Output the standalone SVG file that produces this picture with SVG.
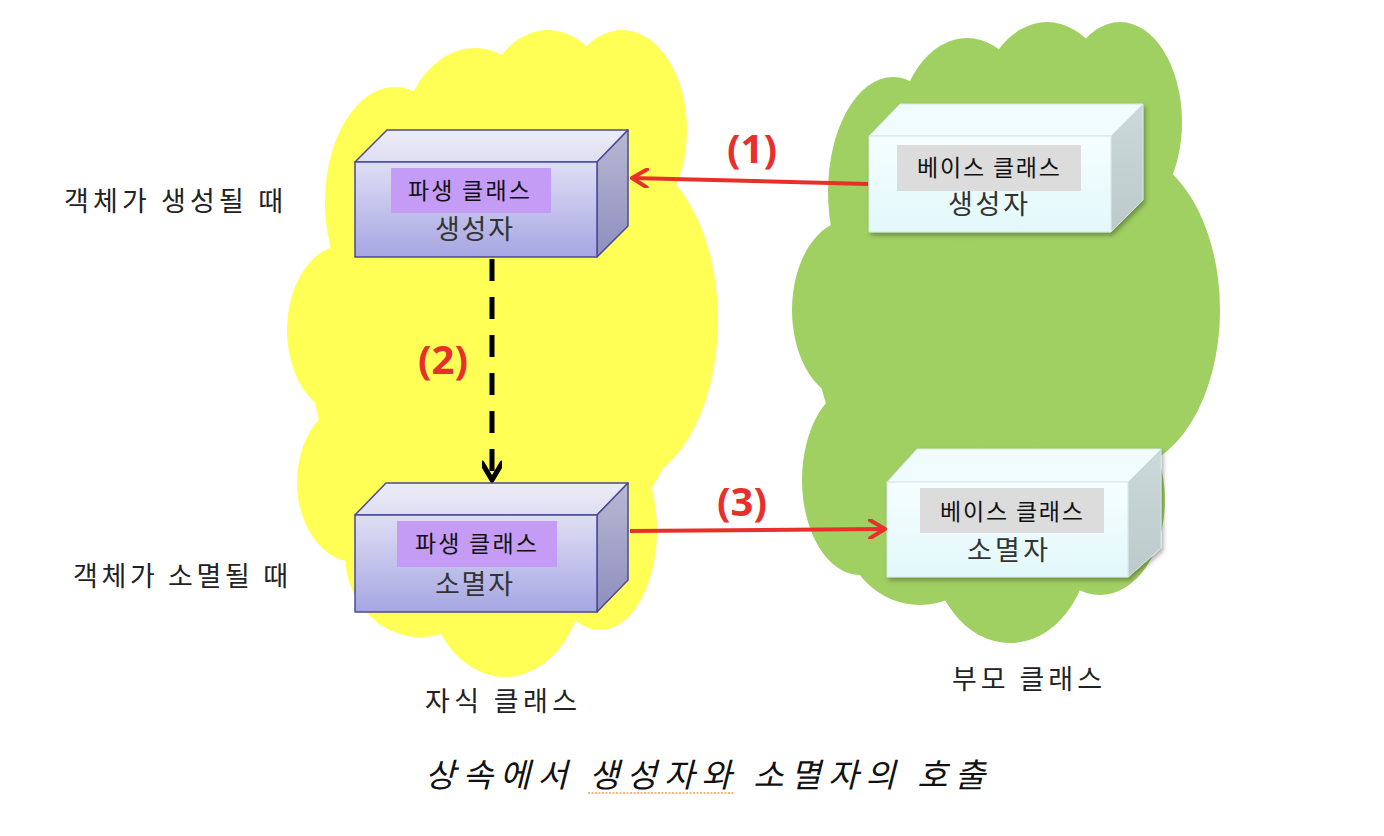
<svg xmlns="http://www.w3.org/2000/svg" width="1384" height="836" viewBox="0 0 1384 836">
<defs>
<linearGradient id="pFront" x1="0" y1="0" x2="0" y2="1"><stop offset="0" stop-color="#dedef5"/><stop offset="1" stop-color="#a6a6e2"/></linearGradient>
<linearGradient id="pTop" x1="0" y1="0" x2="0" y2="1"><stop offset="0" stop-color="#ececf8"/><stop offset="1" stop-color="#dedef2"/></linearGradient>
<linearGradient id="pSide" x1="0" y1="0" x2="0" y2="1"><stop offset="0" stop-color="#b8b8d2"/><stop offset="1" stop-color="#8e8ec0"/></linearGradient>
<linearGradient id="cFront" x1="0" y1="0" x2="0" y2="1"><stop offset="0" stop-color="#f6feff"/><stop offset="1" stop-color="#e2f8fa"/></linearGradient>
<linearGradient id="cSide" x1="0" y1="0" x2="0" y2="1"><stop offset="0" stop-color="#ccd8d9"/><stop offset="1" stop-color="#bccacb"/></linearGradient>
<filter id="sh" x="-10%" y="-10%" width="130%" height="130%"><feDropShadow dx="2" dy="3" stdDeviation="2" flood-color="#000" flood-opacity="0.3"/></filter>
<marker id="arrRed" viewBox="0 0 20 20" refX="17" refY="10" markerWidth="20" markerHeight="20" markerUnits="userSpaceOnUse" orient="auto"><path d="M2,1 L17,10 L2,19" fill="none" stroke="#e8302a" stroke-width="4" stroke-linecap="round" stroke-linejoin="round"/></marker>
<marker id="arrBlack" viewBox="0 0 26 20" refX="22" refY="10" markerWidth="26" markerHeight="20" markerUnits="userSpaceOnUse" orient="auto"><path d="M5,0 L22,10 L5,20" fill="none" stroke="#000" stroke-width="5" stroke-linecap="round" stroke-linejoin="round"/></marker>
</defs>
<style>
.yel{fill:#ffff55}
.grn{fill:#a0cf62}
.kr{font-family:"Noto Sans CJK KR","Noto Sans",sans-serif}
.lbl{font-size:27px;fill:#222}
.tag{font-size:23px;fill:#111}
.sub{font-size:27px;fill:#333}
.num{font-family:"Noto Sans","DejaVu Sans",sans-serif;font-weight:bold;font-size:40px;fill:#e8302a}
.pedge{stroke:#4a4a9a;stroke-width:1.5;stroke-linejoin:round}
.cedge{stroke:#d4e6e8;stroke-width:1;stroke-linejoin:round}
</style>
<rect width="1384" height="836" fill="#ffffff"/>

<g id="cloud-child">
<ellipse class="yel" cx="500" cy="350" rx="190" ry="230"/>
<ellipse class="yel" cx="395" cy="202" rx="70" ry="115"/>
<ellipse class="yel" cx="475" cy="150" rx="75" ry="102"/>
<ellipse class="yel" cx="548" cy="130" rx="70" ry="100"/>
<ellipse class="yel" cx="622" cy="130" rx="65" ry="100"/>
<ellipse class="yel" cx="620" cy="320" rx="98" ry="165"/>
<ellipse class="yel" cx="345" cy="330" rx="58" ry="85"/>
<ellipse class="yel" cx="355" cy="482" rx="58" ry="80"/>
<ellipse class="yel" cx="420" cy="555" rx="75" ry="82"/>
<ellipse class="yel" cx="505" cy="570" rx="80" ry="107"/>
<ellipse class="yel" cx="600" cy="530" rx="57" ry="100"/>
</g>

<g id="cloud-parent">
<ellipse class="grn" cx="1005" cy="330" rx="190" ry="220"/>
<ellipse class="grn" cx="893" cy="192" rx="65" ry="115"/>
<ellipse class="grn" cx="967" cy="140" rx="70" ry="102"/>
<ellipse class="grn" cx="1047" cy="122" rx="70" ry="100"/>
<ellipse class="grn" cx="1120" cy="122" rx="62" ry="100"/>
<ellipse class="grn" cx="1120" cy="310" rx="100" ry="160"/>
<ellipse class="grn" cx="850" cy="310" rx="58" ry="90"/>
<ellipse class="grn" cx="860" cy="480" rx="58" ry="95"/>
<ellipse class="grn" cx="920" cy="530" rx="75" ry="75"/>
<ellipse class="grn" cx="1010" cy="540" rx="80" ry="103"/>
<ellipse class="grn" cx="1100" cy="500" rx="65" ry="95"/>
</g>

<g id="side-labels" class="kr lbl">
<text x="64" y="211" textLength="219" lengthAdjust="spacing">객체가 생성될 때</text>
<text x="73" y="586" textLength="215" lengthAdjust="spacing">객체가 소멸될 때</text>
<text x="425" y="711" textLength="152" lengthAdjust="spacing">자식 클래스</text>
<text x="952" y="689" textLength="150" lengthAdjust="spacing">부모 클래스</text>
</g>

<g id="node-derived-ctor">
<polygon points="355,162 387,130 628,130 597,162" fill="url(#pTop)" class="pedge"/>
<polygon points="597,162 628,130 628,226 597,257" fill="url(#pSide)" class="pedge"/>
<rect x="355" y="162" width="242" height="95" fill="url(#pFront)" class="pedge"/>
<rect x="391" y="168" width="160" height="45" fill="#c49cf6"/>
<text class="kr tag" x="408" y="199" textLength="122" lengthAdjust="spacing">파생 클래스</text>
<text class="kr sub" x="435" y="239" textLength="78" lengthAdjust="spacing">생성자</text>
</g>

<g id="node-derived-dtor">
<polygon points="355,515 386,483 628,483 597,515" fill="url(#pTop)" class="pedge"/>
<polygon points="597,515 628,483 628,580 597,612" fill="url(#pSide)" class="pedge"/>
<rect x="355" y="515" width="242" height="97" fill="url(#pFront)" class="pedge"/>
<rect x="397" y="521" width="160" height="46" fill="#c49cf6"/>
<text class="kr tag" x="415" y="552" textLength="122" lengthAdjust="spacing">파생 클래스</text>
<text class="kr sub" x="435" y="594" textLength="78" lengthAdjust="spacing">소멸자</text>
</g>

<g id="node-base-ctor">
<g filter="url(#sh)">
<polygon points="869,136 900,104 1143,104 1111,136" fill="#f0fcfd" class="cedge"/>
<polygon points="1111,136 1143,104 1143,200 1111,232" fill="url(#cSide)" class="cedge"/>
<rect x="869" y="136" width="242" height="96" fill="url(#cFront)" class="cedge"/>
</g>
<rect x="897" y="145" width="184" height="46" fill="#dcdcdc"/>
<text class="kr tag" x="917" y="176" textLength="143" lengthAdjust="spacing">베이스 클래스</text>
<text class="kr sub" x="948" y="214" textLength="80" lengthAdjust="spacing">생성자</text>
</g>

<g id="node-base-dtor">
<g filter="url(#sh)">
<polygon points="887,482 917,449 1161,449 1128,482" fill="#f0fcfd" class="cedge"/>
<polygon points="1128,482 1161,449 1161,548 1128,577" fill="url(#cSide)" class="cedge"/>
<rect x="887" y="482" width="241" height="95" fill="url(#cFront)" class="cedge"/>
</g>
<rect x="920" y="488" width="184" height="45" fill="#dcdcdc"/>
<text class="kr tag" x="940" y="520" textLength="143" lengthAdjust="spacing">베이스 클래스</text>
<text class="kr sub" x="967" y="560" textLength="81" lengthAdjust="spacing">소멸자</text>
</g>

<g id="connectors">
<line x1="868" y1="184" x2="632" y2="178" stroke="#e8302a" stroke-width="4" marker-end="url(#arrRed)"/>
<line x1="492" y1="259" x2="492" y2="480" stroke="#000" stroke-width="5" stroke-dasharray="22,16" marker-end="url(#arrBlack)"/>
<line x1="630" y1="531" x2="885" y2="529" stroke="#e8302a" stroke-width="4" marker-end="url(#arrRed)"/>
<text class="num" x="752" y="163" text-anchor="middle">(1)</text>
<text class="num" x="443" y="374" text-anchor="middle">(2)</text>
<text class="num" x="742" y="516" text-anchor="middle">(3)</text>
</g>

<g id="title">
<text class="kr" x="425" y="787" font-size="33" font-style="italic" fill="#111" textLength="560" lengthAdjust="spacing">상속에서 생성자와 소멸자의 호출</text>
<line x1="588" y1="793" x2="735" y2="793" stroke="#f0a050" stroke-width="1.5" stroke-dasharray="2,1.5"/>
</g>
</svg>
